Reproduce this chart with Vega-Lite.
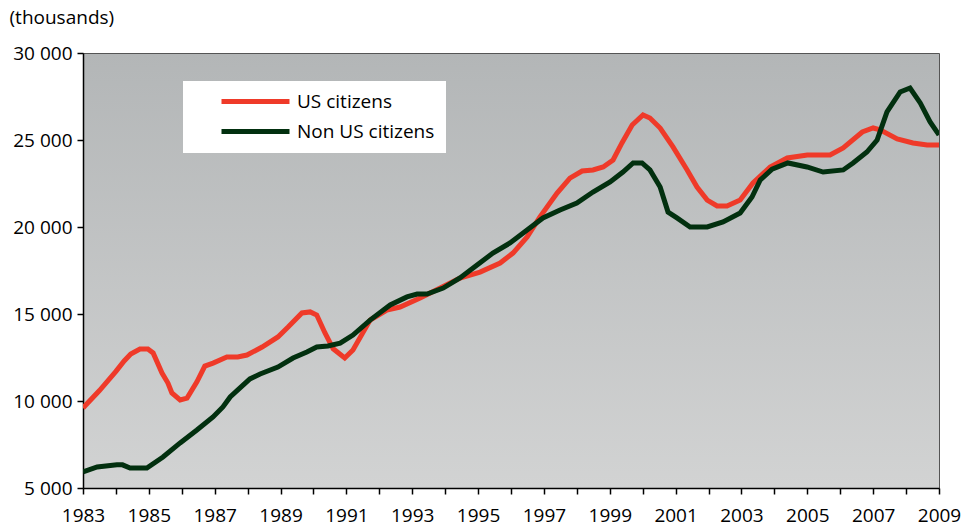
{
  "$schema": "https://vega.github.io/schema/vega-lite/v6.json",
  "width": 856,
  "height": 435,
  "autosize": {"type": "none"},
  "padding": {"left": 83, "top": 53, "right": 30, "bottom": 43},
  "background": "white",
  "config": {
    "view": {
      "fill": {"gradient": "linear", "x1": 0, "y1": 0, "x2": 0, "y2": 1, "stops": [{"offset": 0, "color": "#b3b6b7"}, {"offset": 1, "color": "#d2d3d3"}]},
      "stroke": "#555555",
      "strokeWidth": 1
    },
    "axis": {
      "domainColor": "#000000",
      "domainWidth": 1.5,
      "tickColor": "#000000",
      "tickWidth": 1.5,
      "labelColor": "#000000",
      "labelFont": "Open Sans",
      "labelFontSize": 19,
      "titleFont": "Open Sans",
      "titleFontSize": 19,
      "titleFontWeight": "normal",
      "titleColor": "#000000",
      "grid": false
    }
  },
  "data": {
    "values": [
      {"year": 1983.0, "value": 9600, "series": "US citizens"},
      {"year": 1983.5, "value": 10600, "series": "US citizens"},
      {"year": 1984.0, "value": 11700, "series": "US citizens"},
      {"year": 1984.25, "value": 12300, "series": "US citizens"},
      {"year": 1984.45, "value": 12700, "series": "US citizens"},
      {"year": 1984.73, "value": 12990, "series": "US citizens"},
      {"year": 1984.97, "value": 12990, "series": "US citizens"},
      {"year": 1985.13, "value": 12760, "series": "US citizens"},
      {"year": 1985.4, "value": 11610, "series": "US citizens"},
      {"year": 1985.58, "value": 11035, "series": "US citizens"},
      {"year": 1985.7, "value": 10460, "series": "US citizens"},
      {"year": 1985.95, "value": 10060, "series": "US citizens"},
      {"year": 1986.16, "value": 10170, "series": "US citizens"},
      {"year": 1986.46, "value": 11100, "series": "US citizens"},
      {"year": 1986.7, "value": 12010, "series": "US citizens"},
      {"year": 1986.95, "value": 12180, "series": "US citizens"},
      {"year": 1987.37, "value": 12530, "series": "US citizens"},
      {"year": 1987.7, "value": 12530, "series": "US citizens"},
      {"year": 1987.98, "value": 12640, "series": "US citizens"},
      {"year": 1988.44, "value": 13100, "series": "US citizens"},
      {"year": 1988.92, "value": 13680, "series": "US citizens"},
      {"year": 1989.23, "value": 14250, "series": "US citizens"},
      {"year": 1989.65, "value": 15060, "series": "US citizens"},
      {"year": 1989.9, "value": 15120, "series": "US citizens"},
      {"year": 1990.1, "value": 14940, "series": "US citizens"},
      {"year": 1990.35, "value": 13910, "series": "US citizens"},
      {"year": 1990.6, "value": 13000, "series": "US citizens"},
      {"year": 1990.95, "value": 12470, "series": "US citizens"},
      {"year": 1991.2, "value": 12930, "series": "US citizens"},
      {"year": 1991.72, "value": 14650, "series": "US citizens"},
      {"year": 1992.23, "value": 15230, "series": "US citizens"},
      {"year": 1992.63, "value": 15400, "series": "US citizens"},
      {"year": 1993.24, "value": 15920, "series": "US citizens"},
      {"year": 1993.85, "value": 16490, "series": "US citizens"},
      {"year": 1994.45, "value": 17070, "series": "US citizens"},
      {"year": 1995.06, "value": 17410, "series": "US citizens"},
      {"year": 1995.67, "value": 17930, "series": "US citizens"},
      {"year": 1996.06, "value": 18500, "series": "US citizens"},
      {"year": 1996.49, "value": 19430, "series": "US citizens"},
      {"year": 1996.88, "value": 20580, "series": "US citizens"},
      {"year": 1997.4, "value": 21950, "series": "US citizens"},
      {"year": 1997.79, "value": 22810, "series": "US citizens"},
      {"year": 1998.16, "value": 23220, "series": "US citizens"},
      {"year": 1998.49, "value": 23280, "series": "US citizens"},
      {"year": 1998.8, "value": 23450, "series": "US citizens"},
      {"year": 1999.1, "value": 23850, "series": "US citizens"},
      {"year": 1999.37, "value": 24830, "series": "US citizens"},
      {"year": 1999.68, "value": 25860, "series": "US citizens"},
      {"year": 2000.01, "value": 26440, "series": "US citizens"},
      {"year": 2000.22, "value": 26260, "series": "US citizens"},
      {"year": 2000.53, "value": 25690, "series": "US citizens"},
      {"year": 2000.92, "value": 24600, "series": "US citizens"},
      {"year": 2001.35, "value": 23280, "series": "US citizens"},
      {"year": 2001.65, "value": 22300, "series": "US citizens"},
      {"year": 2001.96, "value": 21550, "series": "US citizens"},
      {"year": 2002.26, "value": 21210, "series": "US citizens"},
      {"year": 2002.56, "value": 21210, "series": "US citizens"},
      {"year": 2002.96, "value": 21550, "series": "US citizens"},
      {"year": 2003.35, "value": 22530, "series": "US citizens"},
      {"year": 2003.87, "value": 23450, "series": "US citizens"},
      {"year": 2004.39, "value": 23970, "series": "US citizens"},
      {"year": 2005.0, "value": 24140, "series": "US citizens"},
      {"year": 2005.69, "value": 24140, "series": "US citizens"},
      {"year": 2006.09, "value": 24540, "series": "US citizens"},
      {"year": 2006.67, "value": 25460, "series": "US citizens"},
      {"year": 2007.0, "value": 25690, "series": "US citizens"},
      {"year": 2007.21, "value": 25580, "series": "US citizens"},
      {"year": 2007.73, "value": 25060, "series": "US citizens"},
      {"year": 2008.21, "value": 24830, "series": "US citizens"},
      {"year": 2008.64, "value": 24710, "series": "US citizens"},
      {"year": 2009.0, "value": 24710, "series": "US citizens"},
      {"year": 1983.0, "value": 5920, "series": "Non US citizens"},
      {"year": 1983.43, "value": 6210, "series": "Non US citizens"},
      {"year": 1984.03, "value": 6330, "series": "Non US citizens"},
      {"year": 1984.2, "value": 6330, "series": "Non US citizens"},
      {"year": 1984.43, "value": 6150, "series": "Non US citizens"},
      {"year": 1984.94, "value": 6150, "series": "Non US citizens"},
      {"year": 1985.43, "value": 6780, "series": "Non US citizens"},
      {"year": 1985.95, "value": 7590, "series": "Non US citizens"},
      {"year": 1986.46, "value": 8330, "series": "Non US citizens"},
      {"year": 1986.95, "value": 9080, "series": "Non US citizens"},
      {"year": 1987.25, "value": 9660, "series": "Non US citizens"},
      {"year": 1987.47, "value": 10230, "series": "Non US citizens"},
      {"year": 1987.77, "value": 10750, "series": "Non US citizens"},
      {"year": 1988.07, "value": 11270, "series": "Non US citizens"},
      {"year": 1988.38, "value": 11550, "series": "Non US citizens"},
      {"year": 1988.92, "value": 11950, "series": "Non US citizens"},
      {"year": 1989.38, "value": 12470, "series": "Non US citizens"},
      {"year": 1989.8, "value": 12820, "series": "Non US citizens"},
      {"year": 1990.1, "value": 13100, "series": "Non US citizens"},
      {"year": 1990.44, "value": 13160, "series": "Non US citizens"},
      {"year": 1990.81, "value": 13330, "series": "Non US citizens"},
      {"year": 1991.2, "value": 13790, "series": "Non US citizens"},
      {"year": 1991.72, "value": 14650, "series": "Non US citizens"},
      {"year": 1992.33, "value": 15520, "series": "Non US citizens"},
      {"year": 1992.84, "value": 15980, "series": "Non US citizens"},
      {"year": 1993.15, "value": 16150, "series": "Non US citizens"},
      {"year": 1993.45, "value": 16150, "series": "Non US citizens"},
      {"year": 1993.94, "value": 16490, "series": "Non US citizens"},
      {"year": 1994.45, "value": 17070, "series": "Non US citizens"},
      {"year": 1994.97, "value": 17810, "series": "Non US citizens"},
      {"year": 1995.45, "value": 18500, "series": "Non US citizens"},
      {"year": 1995.97, "value": 19080, "series": "Non US citizens"},
      {"year": 1996.49, "value": 19830, "series": "Non US citizens"},
      {"year": 1996.97, "value": 20520, "series": "Non US citizens"},
      {"year": 1997.49, "value": 20980, "series": "Non US citizens"},
      {"year": 1998.0, "value": 21380, "series": "Non US citizens"},
      {"year": 1998.49, "value": 22010, "series": "Non US citizens"},
      {"year": 1999.01, "value": 22590, "series": "Non US citizens"},
      {"year": 1999.4, "value": 23160, "series": "Non US citizens"},
      {"year": 1999.71, "value": 23680, "series": "Non US citizens"},
      {"year": 1999.98, "value": 23680, "series": "Non US citizens"},
      {"year": 2000.22, "value": 23280, "series": "Non US citizens"},
      {"year": 2000.53, "value": 22300, "series": "Non US citizens"},
      {"year": 2000.77, "value": 20860, "series": "Non US citizens"},
      {"year": 2001.04, "value": 20520, "series": "Non US citizens"},
      {"year": 2001.44, "value": 20000, "series": "Non US citizens"},
      {"year": 2001.96, "value": 20000, "series": "Non US citizens"},
      {"year": 2002.44, "value": 20290, "series": "Non US citizens"},
      {"year": 2002.96, "value": 20800, "series": "Non US citizens"},
      {"year": 2003.32, "value": 21720, "series": "Non US citizens"},
      {"year": 2003.57, "value": 22700, "series": "Non US citizens"},
      {"year": 2003.93, "value": 23330, "series": "Non US citizens"},
      {"year": 2004.41, "value": 23680, "series": "Non US citizens"},
      {"year": 2004.99, "value": 23450, "series": "Non US citizens"},
      {"year": 2005.48, "value": 23160, "series": "Non US citizens"},
      {"year": 2006.09, "value": 23280, "series": "Non US citizens"},
      {"year": 2006.39, "value": 23680, "series": "Non US citizens"},
      {"year": 2006.81, "value": 24310, "series": "Non US citizens"},
      {"year": 2007.12, "value": 25000, "series": "Non US citizens"},
      {"year": 2007.42, "value": 26610, "series": "Non US citizens"},
      {"year": 2007.82, "value": 27760, "series": "Non US citizens"},
      {"year": 2008.12, "value": 27990, "series": "Non US citizens"},
      {"year": 2008.43, "value": 27130, "series": "Non US citizens"},
      {"year": 2008.73, "value": 26040, "series": "Non US citizens"},
      {"year": 2009.0, "value": 25290, "series": "Non US citizens"}
    ]
  },
  "encoding": {
    "x": {
      "field": "year",
      "type": "quantitative",
      "scale": {"domain": [1983, 2009], "nice": false, "zero": false},
      "axis": {
        "title": null,
        "values": [1983,1984,1985,1986,1987,1988,1989,1990,1991,1992,1993,1994,1995,1996,1997,1998,1999,2000,2001,2002,2003,2004,2005,2006,2007,2008,2009],
        "labelExpr": "datum.value % 2 == 1 ? toString(datum.value) : ''",
        "tickSize": 6,
        "labelPadding": 12,
        "labelFlush": false,
        "labelOverlap": false
      }
    },
    "y": {
      "field": "value",
      "type": "quantitative",
      "scale": {"domain": [5000, 30000], "nice": false, "zero": false},
      "axis": {
        "title": "(thousands)",
        "titleAngle": 0,
        "titleAlign": "left",
        "titleBaseline": "middle",
        "titleX": -74,
        "titleY": -36,
        "values": [5000, 10000, 15000, 20000, 25000, 30000],
        "labelExpr": "replace(format(datum.value, ','), ',', ' ')",
        "tickSize": 6,
        "labelPadding": 5
      }
    },
    "color": {
      "field": "series",
      "type": "nominal",
      "scale": {"domain": ["US citizens", "Non US citizens"], "range": ["#ef3a29", "#02300f"]},
      "legend": {
        "title": null,
        "orient": "none",
        "legendX": 100,
        "legendY": 28,
        "symbolType": "stroke",
        "symbolSize": 4624,
        "symbolStrokeWidth": 5,
        "clipHeight": 19,
        "rowPadding": 10,
        "padding": 11,
        "symbolOffset": 25,
        "labelOffset": 5,
        "labelFont": "Open Sans",
        "labelFontSize": 19,
        "labelColor": "#000000",
        "fillColor": "#ffffff"
      }
    }
  },
  "layer": [
    {
      "transform": [{"filter": "datum.series == 'US citizens'"}],
      "mark": {"type": "line", "strokeWidth": 5, "clip": true}
    },
    {
      "transform": [{"filter": "datum.series == 'Non US citizens'"}],
      "mark": {"type": "line", "strokeWidth": 5, "clip": true}
    }
  ]
}
